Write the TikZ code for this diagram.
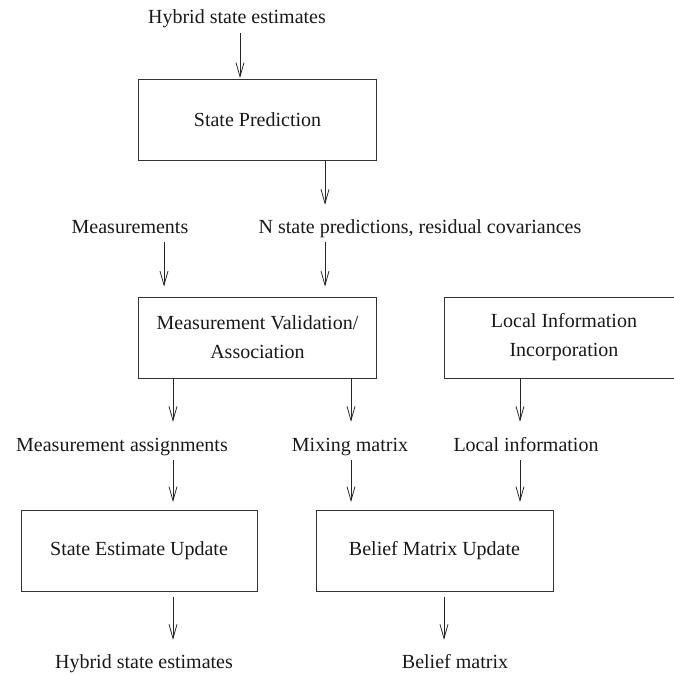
\documentclass[tikz,border=0pt]{standalone}
\usepackage{fontspec}
\setmainfont{Liberation Serif}
\usetikzlibrary{arrows.meta}
\begin{document}
\begin{tikzpicture}[x=1pt,y=-1pt,
  every node/.style={font=\fontsize{20}{29}\selectfont, text=black!90},
  blockbox/.style={draw=black!80, line width=0.9pt, minimum width=238pt,
    minimum height=81pt, inner sep=0pt, align=center},
  lbl/.style={anchor=base, inner sep=0pt, text height=13pt, text depth=4pt},
  arr/.style={draw=black!85, line width=0.8pt,
    -{Straight Barb[length=14pt,width=8pt,line width=0.8pt]}}]
\useasboundingbox (0,0) rectangle (674,675);
\clip (0,0) rectangle (674,675);

% processing blocks
\node[blockbox] (SP)  at (257.5,119.5) {State Prediction};
\node[blockbox] (MV)  at (257.5,337.5) {Measurement Validation/\\Association};
\node[blockbox, minimum width=240pt] (LI) at (564,337.5) {Local Information\\Incorporation};
\node[blockbox, minimum width=236pt] (SEU) at (139,551) {State Estimate Update};
\node[blockbox, minimum width=237pt] (BMU) at (434.5,551) {Belief Matrix Update};

% signal labels
\node[lbl] (T1)    at (237,23)  {Hybrid state estimates};
\node[lbl] (Meas)  at (130,233) {Measurements};
\node[lbl] (Npred) at (420,233) {N state predictions, residual covariances};
\node[lbl] (MA)    at (122,451) {Measurement assignments};
\node[lbl] (MM)    at (350,451) {Mixing matrix};
\node[lbl] (LInfo) at (526,451) {Local information};
\node[lbl] (HSE)   at (144,668) {Hybrid state estimates};
\node[lbl] (BM)    at (455,668) {Belief matrix};

% columns of the vertical connectors
\coordinate (xa) at (240,0);
\coordinate (xb) at (325,0);
\coordinate (xc) at (164,0);
\coordinate (xd) at (173,0);
\coordinate (xe) at (351,0);
\coordinate (xf) at (520,0);
\coordinate (xg) at (444,0);

% connectors
\draw[arr, shorten <=6pt, shorten >=0.5pt] (T1.south -| xa) -- (SP.north -| xa);
\draw[arr, shorten >=15pt] (SP.south -| xb) -- (Npred.north -| xb);
\draw[arr, shorten <=5pt, shorten >=10pt] (Meas.south -| xc) -- (MV.north -| xc);
\draw[arr, shorten <=5pt, shorten >=10pt] (Npred.south -| xb) -- (MV.north -| xb);
\draw[arr, shorten >=16pt] (MV.south -| xd) -- (MA.north -| xd);
\draw[arr, shorten >=16pt] (MV.south -| xe) -- (MM.north -| xe);
\draw[arr, shorten >=16pt] (LI.south -| xf) -- (LInfo.north -| xf);
\draw[arr, shorten <=5pt, shorten >=8pt] (MA.south -| xd) -- (SEU.north -| xd);
\draw[arr, shorten <=5pt, shorten >=8pt] (MM.south -| xe) -- (BMU.north -| xe);
\draw[arr, shorten <=5pt, shorten >=8pt] (LInfo.south -| xf) -- (BMU.north -| xf);
\draw[arr, shorten <=5pt, shorten >=15pt] (SEU.south -| xd) -- (HSE.north -| xd);
\draw[arr, shorten <=5pt, shorten >=15pt] (BMU.south -| xg) -- (BM.north -| xg);
\end{tikzpicture}
\end{document}
